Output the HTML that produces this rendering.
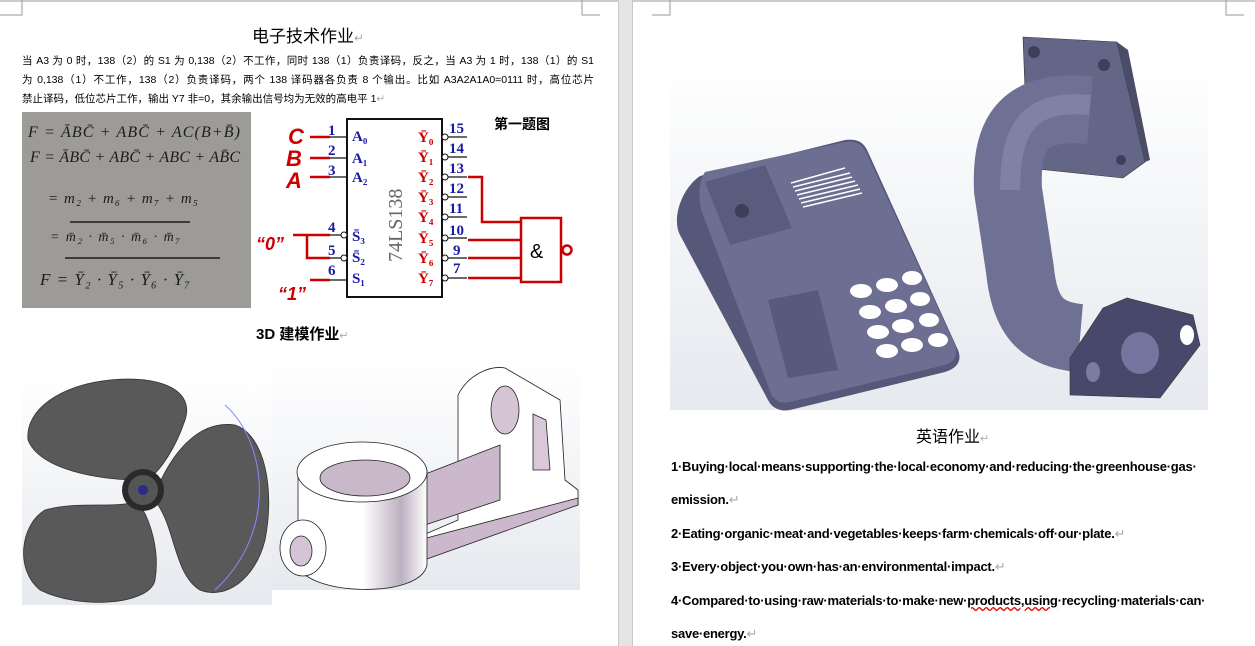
<!DOCTYPE html>
<html><head><meta charset="utf-8">
<style>
body{margin:0;width:1255px;height:646px;overflow:hidden;background:#fff;position:relative;font-family:"Liberation Sans","Noto Sans CJK SC",sans-serif}
.t{position:absolute;white-space:nowrap;color:#000}
.en{font-family:"Liberation Sans",sans-serif;font-weight:bold;font-size:13px;letter-spacing:-0.25px}
.ret{color:#aaa;font-weight:normal}
.pl{position:absolute;left:22px;width:572px;font-size:10.5px;white-space:nowrap;text-align:justify;text-align-last:justify;font-family:"Liberation Sans","Noto Sans CJK SC",sans-serif;line-height:14px}
</style></head><body>
<svg width="1255" height="646" style="position:absolute;left:0;top:0">
<defs>
<linearGradient id="bg" x1="0" y1="0" x2="0" y2="1"><stop offset="0" stop-color="#fff"/><stop offset="1" stop-color="#e6e9ee"/></linearGradient>
<linearGradient id="cyl" x1="0" y1="0" x2="1" y2="0"><stop offset="0" stop-color="#fff"/><stop offset="0.5" stop-color="#fff"/><stop offset="0.8" stop-color="#bcb0c0"/><stop offset="1" stop-color="#ffffff"/></linearGradient>
</defs>
<rect x="0" y="0" width="1255" height="2" fill="#ccc"/>
<rect x="618" y="0" width="15" height="646" fill="#e4e4e4"/>
<rect x="618" y="0" width="1" height="646" fill="#c8c8c8"/><rect x="632" y="0" width="1" height="646" fill="#c8c8c8"/>
<path d="M22 0V15H0 M582 0V15H600 M670 0V15H652 M1226 0V15H1244" stroke="#999" fill="none"/>
<!-- photo -->
<rect x="22" y="112" width="229" height="196" fill="#9d9b97"/>
<g font-family="Liberation Serif,serif" font-style="italic" fill="#1c1c1c" font-size="16">
<text x="28" y="137" textLength="212">F = ĀBC̄ + ABC̄ + AC(B+B̄)</text>
<text x="30" y="162" textLength="210">F = ĀBC̄ + ABC̄ + ABC + AB̄C</text>
<text x="48" y="203" font-size="15" textLength="150">= m₂ + m₆ + m₇ + m₅</text>
<text x="50" y="241" font-size="14" textLength="130">= m̄₂ · m̄₅ · m̄₆ · m̄₇</text>
<text x="40" y="285" font-size="17" textLength="150">F = Ȳ₂ · Ȳ₅ · Ȳ₆ · Ȳ₇</text>
</g>
<path d="M70 222H190 M65 258H220" stroke="#1c1c1c" stroke-width="1.5"/>
<!-- circuit -->
<rect x="347" y="119" width="95" height="178" fill="#fff" stroke="#111" stroke-width="2"/>
<g stroke="#c00" stroke-width="2.5" fill="none">
<path d="M310 137H330 M310 158H330 M310 177H330 M293 235H307V258H330 M293 235H330 M310 280H330"/>
<path d="M468 177H482V222H521 M468 240H521 M468 258H521 M468 278H521"/>
<rect x="521" y="218" width="40" height="64"/>
<circle cx="567" cy="250" r="4.5"/>
</g>
<g stroke="#111" stroke-width="1.2"><path d="M330 137H347 M330 158H347 M330 177H347 M330 235H343 M330 258H343 M330 280H347 M446 137H467 M446 157H467 M446 177H467 M446 197H467 M446 217H467 M446 238H467 M446 258H467 M446 278H467"/></g>
<g fill="#fff" stroke="#111"><circle cx="344" cy="235" r="3"/><circle cx="344" cy="258" r="3"/>
<circle cx="445" cy="137" r="3"/><circle cx="445" cy="157" r="3"/><circle cx="445" cy="177" r="3"/><circle cx="445" cy="197" r="3"/><circle cx="445" cy="217" r="3"/><circle cx="445" cy="238" r="3"/><circle cx="445" cy="258" r="3"/><circle cx="445" cy="278" r="3"/></g>
<g font-family="Liberation Sans,sans-serif" font-weight="bold" font-style="italic" fill="#c00" font-size="22">
<text x="288" y="144">C</text><text x="286" y="166">B</text><text x="286" y="188">A</text>
<text x="256" y="250" font-size="18">“0”</text><text x="278" y="300" font-size="18">“1”</text></g>
<g font-family="Liberation Serif,serif" font-weight="bold" fill="#1a1aa8" font-size="15">
<text x="328" y="135">1</text><text x="328" y="155">2</text><text x="328" y="175">3</text><text x="328" y="232">4</text><text x="328" y="255">5</text><text x="328" y="275">6</text>
<text x="352" y="141">A₀</text><text x="352" y="163">A₁</text><text x="352" y="182">A₂</text>
<text x="352" y="241">S̄₃</text><text x="352" y="262">S̄₂</text><text x="352" y="283">S₁</text>
<text x="449" y="133">15</text><text x="449" y="153">14</text><text x="449" y="173">13</text><text x="449" y="193">12</text><text x="449" y="213">11</text><text x="449" y="235">10</text><text x="453" y="255">9</text><text x="453" y="273">7</text>
</g>
<g font-family="Liberation Serif,serif" font-weight="bold" fill="#c00" font-size="15">
<text x="418" y="142">Ȳ₀</text><text x="418" y="162">Ȳ₁</text><text x="418" y="182">Ȳ₂</text><text x="418" y="202">Ȳ₃</text><text x="418" y="222">Ȳ₄</text><text x="418" y="243">Ȳ₅</text><text x="418" y="263">Ȳ₆</text><text x="418" y="283">Ȳ₇</text></g>
<text x="0" y="0" transform="translate(402,262) rotate(-90)" font-family="Liberation Serif,serif" font-size="20" fill="#666">74LS138</text>
<text x="530" y="258" font-size="20" font-family="Liberation Sans,sans-serif">&amp;</text>
<text x="494" y="129" font-size="14" font-weight="bold" font-family="Noto Sans CJK SC,sans-serif">第一题图</text>
<!-- fan -->
<rect x="22" y="375" width="250" height="230" fill="url(#bg)"/>
<g fill="#595959" stroke="#333" stroke-width="0.8">
<path d="M138 480C100 480 40 470 28 440C25 410 60 385 110 380C160 375 195 390 185 420C175 450 160 470 150 478Z"/>
<path d="M160 482C175 450 200 420 235 425C265 435 275 490 265 540C255 580 225 600 200 590C175 575 175 530 158 505Z"/>
<path d="M138 500C120 510 80 500 45 510C20 525 15 570 40 590C80 610 150 605 155 580C160 550 150 520 140 505Z"/>
</g>
<path d="M225 405C265 440 280 530 215 590" stroke="#88f" fill="none"/>
<circle cx="143" cy="490" r="21" fill="#2a2a2a"/><circle cx="143" cy="490" r="15" fill="#555"/><circle cx="143" cy="490" r="5" fill="#2a2a8a"/>
<!-- bracket -->
<rect x="272" y="357" width="308" height="233" fill="url(#bg)"/>
<g stroke="#222" stroke-width="0.8" stroke-linejoin="round">
<path d="M458 458L458 395C468 375 490 365 505 368L560 400L565 480L578 490L578 505L410 560L400 545L458 520Z" fill="#fff"/>
<path d="M533 414L546 420L550 470L533 470Z" fill="#d8c8da"/>
<path d="M410 480L500 445L500 500L410 530Z" fill="#cbb8cc"/>
<path d="M400 545L578 498L578 505L410 565Z" fill="#cbb8cc"/>
<ellipse cx="505" cy="410" rx="14" ry="24" fill="#d5c4d6"/>
<path d="M298 470L298 565C305 595 420 600 427 565L427 470Z" fill="url(#cyl)"/>
<ellipse cx="362" cy="472" rx="65" ry="30" fill="#fff"/>
<ellipse cx="365" cy="478" rx="45" ry="18" fill="#c8b8ca"/>
<ellipse cx="303" cy="548" rx="23" ry="28" fill="#fff"/>
<ellipse cx="301" cy="551" rx="11" ry="15" fill="#d5c4d6"/>
</g>
<!-- phone -->
<rect x="670" y="60" width="296" height="350" fill="url(#bg)"/>
<path d="M700 176L845 140C860 138 865 145 868 152L958 350C962 360 958 368 945 372L790 410C780 412 772 408 768 400L680 235C672 220 680 190 700 176Z" fill="#56587a"/>
<path d="M705 172L845 142C858 140 862 146 866 152L955 345C958 355 955 362 945 365L790 402C782 404 776 401 772 396L703 215C698 200 698 182 705 172Z" fill="#6c6e92"/>
<path d="M705 182L765 165L792 228L730 245Z" fill="#5a5c7e"/>
<circle cx="742" cy="211" r="7" fill="#3d3f58"/>
<path d="M768 300L818 290L838 370L788 378Z" fill="#585a7c"/>
<g stroke="#fff" stroke-width="1.5"><path d="M791 183L845 168 M793 187L850 173 M795 191L852 177 M797 195L855 181 M799 199L858 185 M801 203L860 189 M803 207L862 193"/></g>
<g fill="#fff"><ellipse cx="861" cy="291" rx="11" ry="7"/><ellipse cx="887" cy="285" rx="11" ry="7"/><ellipse cx="912" cy="278" rx="10" ry="7"/>
<ellipse cx="870" cy="312" rx="11" ry="7"/><ellipse cx="896" cy="306" rx="11" ry="7"/><ellipse cx="920" cy="299" rx="10" ry="7"/>
<ellipse cx="878" cy="332" rx="11" ry="7"/><ellipse cx="903" cy="326" rx="11" ry="7"/><ellipse cx="929" cy="320" rx="10" ry="7"/>
<ellipse cx="887" cy="351" rx="11" ry="7"/><ellipse cx="912" cy="345" rx="11" ry="7"/><ellipse cx="938" cy="340" rx="10" ry="7"/></g>
<!-- pipe -->
<rect x="966" y="60" width="242" height="350" fill="url(#bg)"/>
<path d="M1023 37L1117 42L1145 162L1123 178L1028 168Z" fill="#646688" stroke="#333" stroke-width="0.6"/>
<path d="M1117 42L1128 50L1150 160L1145 162Z" fill="#4a4c68"/>
<circle cx="1034" cy="52" r="6" fill="#3d3f58"/><circle cx="1104" cy="65" r="6" fill="#3d3f58"/><circle cx="1121" cy="160" r="5" fill="#3d3f58"/>
<path d="M1090 110C1030 105 1005 125 1008 190L1020 270C1025 320 1045 335 1080 338" stroke="#6f7194" stroke-width="68" fill="none"/>
<path d="M1090 105C1035 100 1010 120 1010 190" stroke="#8a8cb0" stroke-width="20" fill="none" opacity="0.6"/>
<path d="M1070 358L1103 308L1127 298L1193 315L1200 345L1160 398L1070 395Z" fill="#48496a" stroke="#333" stroke-width="0.6"/>
<ellipse cx="1140" cy="353" rx="19" ry="21" fill="#7476a0"/>
<ellipse cx="1187" cy="335" rx="7" ry="10" fill="#fff"/><ellipse cx="1093" cy="372" rx="7" ry="10" fill="#7a7ca0"/>
</svg>
<div class="t" style="left:252px;top:22px;font-size:17px;font-family:'Noto Sans CJK SC',sans-serif">电子技术作业<span class="ret" style="font-size:12px">↵</span></div>
<div class="pl" style="top:54px">当 A3 为 0 时，138（2）的 S1 为 0,138（2）不工作，同时 138（1）负责译码，反之，当 A3 为 1 时，138（1）的 S1</div>
<div class="pl" style="top:73px">为 0,138（1）不工作，138（2）负责译码，两个 138 译码器各负责 8 个输出。比如 A3A2A1A0=0111 时，高位芯片</div>
<div class="pl" style="top:92px;text-align-last:auto">禁止译码，低位芯片工作，输出 Y7 非=0，其余输出信号均为无效的高电平 1<span class="ret">↵</span></div>
<div class="t" style="left:256px;top:323px;font-size:15px;font-weight:bold;font-family:'Liberation Sans','Noto Sans CJK SC',sans-serif">3D 建模作业<span class="ret" style="font-size:11px">↵</span></div>
<div class="t" style="left:916px;top:423px;font-size:16px;font-family:'Noto Sans CJK SC',sans-serif">英语作业<span class="ret" style="font-size:11px">↵</span></div>
<div class="t en" style="left:671px;top:459px">1·Buying·local·means·supporting·the·local·economy·and·reducing·the·greenhouse·gas·</div>
<div class="t en" style="left:671px;top:492px">emission.<span class="ret">↵</span></div>
<div class="t en" style="left:671px;top:526px">2·Eating·organic·meat·and·vegetables·keeps·farm·chemicals·off·our·plate.<span class="ret">↵</span></div>
<div class="t en" style="left:671px;top:559px">3·Every·object·you·own·has·an·environmental·impact.<span class="ret">↵</span></div>
<div class="t en" style="left:671px;top:593px">4·Compared·to·using·raw·materials·to·make·new·<span style="text-decoration:underline wavy #d00">products,using</span>·recycling·materials·can·</div>
<div class="t en" style="left:671px;top:626px">save·energy.<span class="ret">↵</span></div>
</body></html>
